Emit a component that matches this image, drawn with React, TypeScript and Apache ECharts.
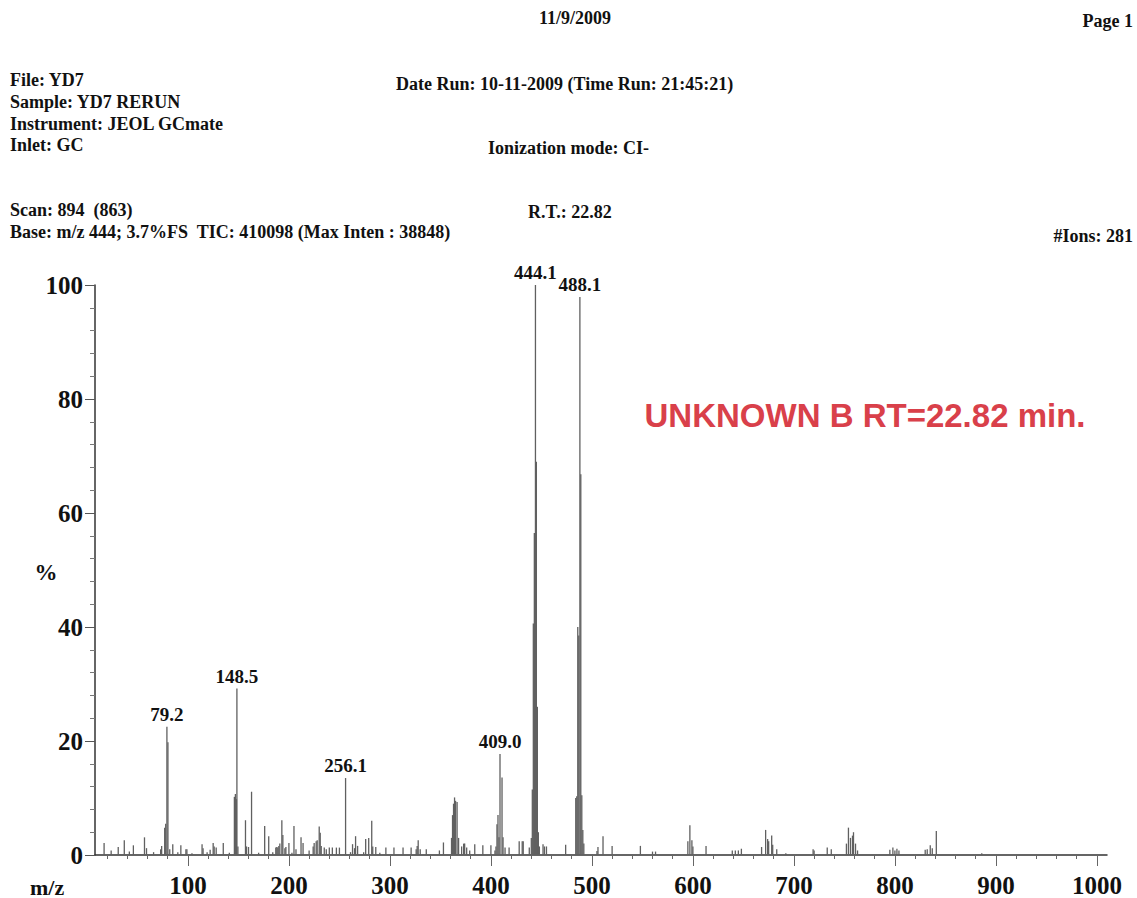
import React, { useEffect, useRef } from "react";
import * as echarts from "echarts";

// m/z values of the sticks
const peakMz: number[] = [
  17, 24, 31, 37, 42, 46, 57, 59, 66, 73, 74, 77, 78, 79.2, 80.2, 82, 85, 90, 93, 98, 99, 104,
  114, 115, 119, 122, 125, 126, 128, 135, 141, 146, 147, 148, 148.5, 149.5, 157, 158, 160, 163,
  170, 176, 180, 184, 187, 188, 189, 190, 191, 193, 194, 196, 197, 200, 203, 205, 207, 212, 214,
  220, 224, 225, 227, 228, 230, 231, 232, 235, 237, 240, 243, 247, 250, 256.1, 261, 263, 265, 266,
  268, 274, 276, 279, 282, 283, 286, 290, 296, 304, 313, 321, 326, 327, 328, 330, 336, 349, 353,
  361, 362, 363, 364, 365, 366.5, 368, 371, 373, 374, 376, 379, 384, 392, 400, 404, 405, 406, 407,
  408, 409.0, 411, 412, 414, 418, 428, 431, 432, 438, 440, 441, 442, 443, 444.1, 445, 446, 447, 448,
  451.6, 453, 455, 474, 484, 485, 486, 487, 488.1, 489, 490, 491, 492, 505, 506, 511, 520, 548, 560,
  563, 595, 597, 599, 600, 613, 639, 642, 645, 648, 668, 672, 674, 675, 678, 679, 683, 692, 719, 720,
  733, 737, 752, 754, 756, 758, 759, 761, 763, 795, 798, 800, 802, 804, 830, 832, 835, 837, 841, 886,
];

// relative intensity (%) of each stick
const peakIntensity: number[] = [
  2.1, 0.8, 1.4, 2.6, 0.6, 1.7, 3.1, 1.2, 0.5, 1.0, 1.6, 4.8, 5.5, 22.5, 19.8, 1.0, 1.9, 0.5, 1.7, 1.0, 1.0, 0.3,
  1.9, 1.2, 0.5, 0.9, 2.1, 1.5, 1.3, 2.1, 0.4, 10.2, 10.7, 9.8, 29.2, 1.5, 6.1, 1.5, 1.4, 11.1,
  0.4, 5.1, 3.3, 0.5, 1.3, 1.4, 1.3, 1.6, 2.0, 6.1, 3.5, 1.2, 1.4, 2.1, 0.4, 5.1, 1.0, 3.1, 2.1,
  0.8, 1.5, 2.1, 2.4, 2.6, 5.0, 3.9, 1.6, 1.3, 1.0, 1.3, 1.3, 1.3, 1.3, 13.5, 0.5, 1.9, 1.2, 3.3,
  1.6, 0.5, 2.8, 3.0, 6.0, 1.5, 1.4, 0.4, 1.3, 1.3, 1.3, 1.3, 1.0, 1.6, 2.6, 1.0, 1.0, 0.8, 2.2,
  3.0, 7.0, 9.0, 10.1, 9.5, 9.3, 3.0, 1.5, 2.0, 2.0, 1.3, 0.8, 1.9, 1.7, 1.7, 0.8, 1.5, 5.4, 7.0,
  3.1, 17.7, 13.6, 3.1, 1.3, 1.3, 2.4, 2.4, 2.4, 1.3, 3.0, 11.5, 40.6, 56.5, 100, 69, 26, 4.0, 1.5,
  1.9, 1.5, 1.5, 1.8, 10.0, 10.3, 40, 38.5, 97.9, 66.8, 10.5, 4.4, 2.0, 0.7, 1.4, 3.3, 1.6, 1.6, 0.6,
  0.6, 2.4, 5.2, 2.6, 1.5, 1.6, 0.8, 0.8, 0.8, 1.1, 1.4, 4.4, 2.8, 2.4, 3.4, 1.8, 1.0, 0.3, 1.0, 0.8,
  1.3, 1.0, 2.0, 4.8, 3.0, 3.4, 4.0, 2.0, 0.8, 0.9, 1.3, 0.8, 1.1, 0.8, 0.9, 1.0, 1.7, 1.2, 4.2, 0.3,
];

// peaks that carry an m/z label
const labeledMz: number[] = [79.2, 148.5, 256.1, 409.0, 444.1, 488.1];

// x axis labels and ticks
const xTickLabels: number[] = [100, 200, 300, 400, 500, 600, 700, 800, 900, 1000];
const xMinorTicks: number[] = [
  20, 40, 60, 80, 120, 140, 160, 180, 220, 240, 260, 280, 320, 340, 360, 380, 420, 440, 460, 480,
  520, 540, 560, 580, 620, 640, 660, 680, 720, 740, 760, 780, 820, 840, 860, 880, 920, 940, 960, 980,
];

const headerLeft: { text: string; x: number; y: number }[] = [
  { text: "File: YD7", x: 10, y: 80 },
  { text: "Sample: YD7 RERUN", x: 10, y: 102 },
  { text: "Instrument: JEOL GCmate", x: 10, y: 124 },
  { text: "Inlet: GC", x: 10, y: 145 },
  { text: "Date Run: 10-11-2009 (Time Run: 21:45:21)", x: 396, y: 84 },
  { text: "Ionization mode: CI-", x: 488, y: 148 },
  { text: "Scan: 894  (863)", x: 10, y: 210 },
  { text: "R.T.: 22.82", x: 528, y: 212 },
  { text: "Base: m/z 444; 3.7%FS  TIC: 410098 (Max Inten : 38848)", x: 10, y: 232 },
];

const SERIF = "'Liberation Serif', 'Times New Roman', serif";

export default function App() {
  const ref = useRef<HTMLDivElement>(null);

  useEffect(() => {
    if (!ref.current) return;
    const chart = echarts.init(ref.current, undefined, { renderer: "svg" });

    const data = peakMz.map((m, i) => {
      const isLabeled = labeledMz.includes(m);
      return {
        value: [m, peakIntensity[i]],
        label: isLabeled
          ? {
              show: true,
              position: "top",
              distance: 3,
              formatter: m.toFixed(1),
              fontFamily: SERIF,
              fontWeight: "bold",
              fontSize: 19,
              color: "#111",
            }
          : { show: false },
      };
    });

    const headerFont = `bold 18px ${SERIF}`;

    const graphics: any[] = [
      ...headerLeft.map((h) => ({
        type: "text",
        x: h.x,
        y: h.y,
        style: { text: h.text, font: headerFont, fill: "#111", textAlign: "left", textVerticalAlign: "middle" },
      })),
      {
        type: "text",
        x: 575,
        y: 18,
        style: { text: "11/9/2009", font: headerFont, fill: "#111", textAlign: "center", textVerticalAlign: "middle" },
      },
      {
        type: "text",
        x: 1133,
        y: 21,
        style: { text: "Page 1", font: headerFont, fill: "#111", textAlign: "right", textVerticalAlign: "middle" },
      },
      {
        type: "text",
        x: 1133,
        y: 236,
        style: { text: "#Ions: 281", font: headerFont, fill: "#111", textAlign: "right", textVerticalAlign: "middle" },
      },
      {
        type: "text",
        x: 30,
        y: 887,
        style: { text: "m/z", font: `bold 22px ${SERIF}`, fill: "#111", textAlign: "left", textVerticalAlign: "middle" },
      },
      {
        type: "text",
        x: 46,
        y: 572,
        style: { text: "%", font: `bold 23px ${SERIF}`, fill: "#111", textAlign: "center", textVerticalAlign: "middle" },
      },
      {
        type: "text",
        x: 865,
        y: 415,
        style: {
          text: "UNKNOWN B RT=22.82 min.",
          font: "bold 33px 'Liberation Sans', Arial, sans-serif",
          fill: "#d9404a",
          textAlign: "center",
          textVerticalAlign: "middle",
        },
      },
    ];

    const axisFont = { fontFamily: SERIF, fontWeight: "bold" as const, fontSize: 25, color: "#111" };

    chart.setOption({
      animation: false,
      backgroundColor: "#fff",
      grid: { left: 95, right: 30, top: 285, bottom: 41 },
      xAxis: [
        {
          type: "value",
          min: 8,
          max: 1010,
          position: "bottom",
          axisLine: { show: true, onZero: false, lineStyle: { color: "#333", width: 1.5 } },
          axisTick: { show: true, customValues: xMinorTicks, length: 4, lineStyle: { color: "#666" } },
          axisLabel: { customValues: xTickLabels, margin: 18, formatter: (v: number) => String(v), ...axisFont },
          splitLine: { show: false },
        },
        {
          type: "value",
          min: 8,
          max: 1010,
          position: "bottom",
          axisLine: { show: false, onZero: false },
          axisTick: { show: true, customValues: xTickLabels, length: 11, lineStyle: { color: "#666" } },
          axisLabel: { show: false },
          splitLine: { show: false },
        },
      ],
      yAxis: {
        type: "value",
        min: 0,
        max: 100,
        interval: 20,
        axisLine: { show: true, lineStyle: { color: "#333", width: 1.5 } },
        axisTick: { show: true, length: 10, lineStyle: { color: "#555" } },
        minorTick: { show: true, splitNumber: 5, length: 5, lineStyle: { color: "#777" } },
        axisLabel: { margin: 12, ...axisFont },
        splitLine: { show: false },
        minorSplitLine: { show: false },
      },
      series: [
        {
          type: "bar",
          xAxisIndex: 0,
          data,
          barWidth: 1.3,
          itemStyle: { color: "#606060" },
        },
      ],
      graphic: graphics,
    });

    return () => chart.dispose();
  }, []);

  return (
    <div
      ref={ref}
      style={{ position: "absolute", left: 0, top: 0, width: 1137, height: 898, background: "#fff" }}
    />
  );
}
